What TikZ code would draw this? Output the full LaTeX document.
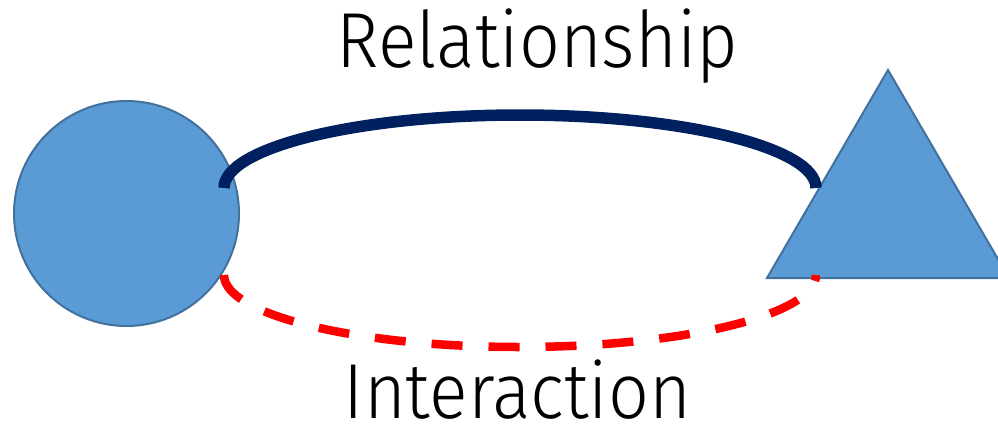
\documentclass[tikz,border=0pt]{standalone}
\usepackage{fontspec}
\newfontfamily\lightfont{Fira Sans Light}[FakeStretch=0.92]
\definecolor{shapefill}{HTML}{5B9BD5}
\definecolor{shapeborder}{HTML}{41719C}
\definecolor{navy}{HTML}{002060}
\definecolor{linkred}{HTML}{FF0000}
\tikzset{
  shapestyle/.style={fill=shapefill, draw=shapeborder, line width=2pt},
  relline/.style={draw=navy, line width=11.5pt},
  intline/.style={draw=linkred, line width=8.5pt, dash pattern=on 31pt off 26pt},
  bigtext/.style={font=\lightfont\fontsize{78}{90}\selectfont, anchor=base, inner sep=0pt}
}
\begin{document}
\begin{tikzpicture}[x=1pt,y=-1pt]
\useasboundingbox (0,0) rectangle (998,426);
\clip (0,0) rectangle (998,426);
\node[shapestyle, circle, minimum size=225pt, inner sep=0pt] (circ) at (126.5,213.5) {};
\path[shapestyle] (888,70) -- (1009,278) -- (767,278) -- cycle;
\coordinate (tri) at (888,200);
\coordinate (r1) at (224,188);
\coordinate (r2) at (816,188);
\coordinate (i1) at (224,275);
\coordinate (i2) at (816,275);
\draw[relline] (r1) arc[start angle=180, end angle=0, x radius=296pt, y radius=73pt];
\draw[intline] (i1) arc[start angle=180, end angle=360, x radius=296pt, y radius=72pt];
\node[bigtext] (rel) at (537.5,67) {Relationship};
\node[bigtext, text depth=0pt] (inter) at (517.5,418) {Interaction};
\end{tikzpicture}
\end{document}
